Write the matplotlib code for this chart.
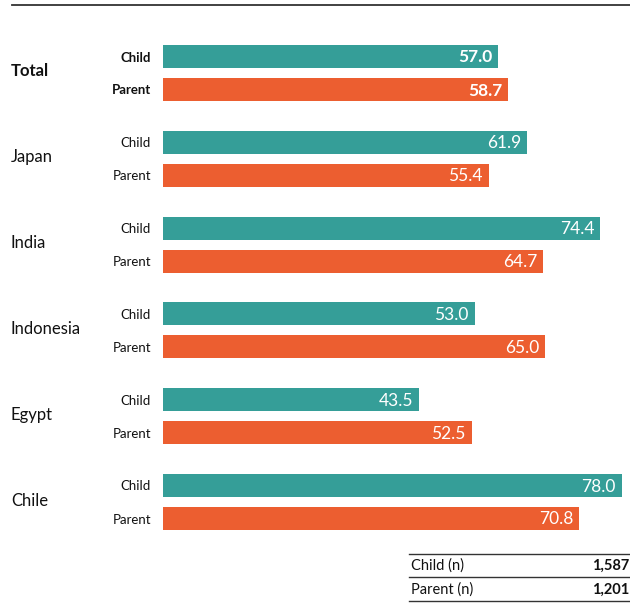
import matplotlib.pyplot as plt
import numpy as np
from matplotlib.lines import Line2D

plt.rcParams['font.family'] = 'Lato'

countries = ['Total', 'Japan', 'India', 'Indonesia', 'Egypt', 'Chile']
child = [57.0, 61.9, 74.4, 53.0, 43.5, 78.0]
parent = [58.7, 55.4, 64.7, 65.0, 52.5, 70.8]
sample_labels = ['Child (n)', 'Parent (n)']
sample_sizes = ['1,587', '1,201']

teal = '#359E98'
orange = '#EC5E30'

W, H = 630, 616
fig = plt.figure(figsize=(W / 100, H / 100), dpi=100)
# axes spans full height, x from bar origin; y in pixel rows (top down)
x0 = 163
ax = fig.add_axes([x0 / W, 0, (W - x0) / W, 1])
ax.set_xlim(0, (W - x0) / 5.88)
ax.set_ylim(H, 0)
ax.axis('off')

first = 56.5
step = 85.8
gap = 33
bh = 23

for i, name in enumerate(countries):
    yc = first + step * i
    yp = yc + gap
    bold = 'bold' if i == 0 else 'normal'
    ax.barh(yc, child[i], height=bh, color=teal)
    ax.barh(yp, parent[i], height=bh, color=orange)
    for y, v in ((yc, child[i]), (yp, parent[i])):
        ax.text(v - 1.0, y + 1, f'{v:.1f}', color='white', ha='right', va='center',
                fontsize=12.5, fontweight=bold)
    fig.text(151 / W, 1 - (yc + 1) / H, 'Child', ha='right', va='center',
             fontsize=9.5, fontweight=bold, color='#111111')
    fig.text(151 / W, 1 - (yp + 1) / H, 'Parent', ha='right', va='center',
             fontsize=9.5, fontweight=bold, color='#111111')
    fig.text(11 / W, 1 - ((yc + yp) / 2 - 1.5) / H, name, ha='left', va='center',
             fontsize=12, fontweight=bold, color='#111111')

# top rule
fig.add_artist(Line2D([12 / W, 1], [1 - 5 / H] * 2, color='#333333', lw=1.3))

# sample size table
for yl in (554, 577, 601):
    fig.add_artist(Line2D([409 / W, 1], [1 - yl / H] * 2, color='#333333', lw=1))
for k, (lab, n) in enumerate(zip(sample_labels, sample_sizes)):
    yt = 566 + 23.5 * k
    fig.text(411 / W, 1 - yt / H, lab, ha='left', va='center', fontsize=10.5, color='#111111')
    fig.text(629 / W, 1 - yt / H, n, ha='right', va='center', fontsize=10.5,
             fontweight='bold', color='#111111')

fig.savefig('out.png', dpi=100)
